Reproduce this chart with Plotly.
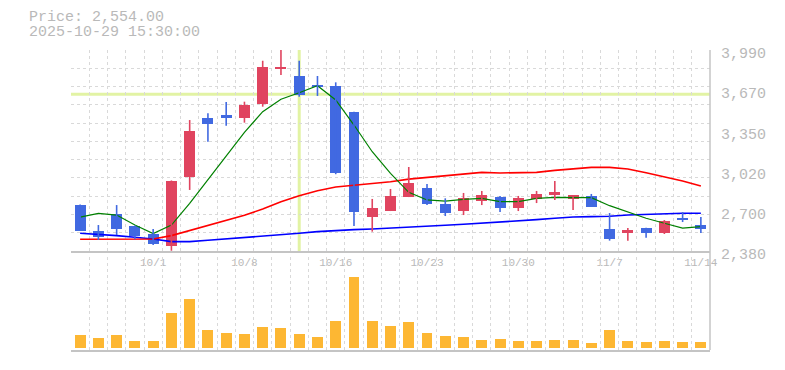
import plotly.graph_objects as go

# ---------------- data ----------------
dates = ["9/25", "9/26", "9/29", "9/30", "10/1", "10/2", "10/3", "10/6", "10/7", "10/8",
         "10/9", "10/10", "10/14", "10/15", "10/16", "10/17", "10/20", "10/21", "10/22", "10/23",
         "10/24", "10/27", "10/28", "10/29", "10/30", "10/31", "11/4", "11/5", "11/6", "11/7",
         "11/10", "11/11", "11/12", "11/13", "11/14"]

open_ = [2748, 2540, 2676, 2580, 2514, 2420, 2975, 3445, 3472, 3448,
         3559, 3840, 3782, 3710, 3702, 3493, 2652, 2703, 2816, 2885,
         2756, 2700, 2780, 2813, 2724, 2797, 2829, 2797, 2821, 2556,
         2527, 2564, 2524, 2644, 2588]
high = [2752, 2588, 2748, 2584, 2556, 2945, 3429, 3483, 3574, 3576,
        3904, 3990, 3904, 3782, 3731, 3495, 2797, 2877, 3053, 2917,
        2802, 2845, 2861, 2821, 2821, 2861, 2941, 2829, 2837, 2684,
        2564, 2566, 2628, 2692, 2652]
low = [2540, 2468, 2508, 2474, 2428, 2382, 2869, 3255, 3384, 3408,
       3536, 3790, 3616, 3622, 2995, 2580, 2535, 2700, 2812, 2748,
       2660, 2668, 2748, 2692, 2700, 2764, 2789, 2708, 2733, 2463,
       2463, 2487, 2516, 2612, 2524]
close = [2543, 2495, 2559, 2500, 2436, 2941, 3341, 3400, 3448, 3549,
         3854, 3854, 3630, 3696, 3005, 2695, 2724, 2821, 2925, 2756,
         2684, 2802, 2829, 2724, 2805, 2837, 2853, 2829, 2735, 2479,
         2548, 2527, 2620, 2628, 2554]

ma_short = [2652, 2682, 2668, 2588, 2519, 2588, 2762, 2949, 3135, 3331,
            3496, 3595, 3648, 3704, 3590, 3389, 3175, 3002, 2850, 2789,
            2780, 2794, 2802, 2775, 2775, 2802, 2810, 2810, 2807, 2743,
            2695, 2642, 2602, 2564, 2575]
ma_mid = [2474, 2474, 2474, 2474, 2476, 2503, 2543, 2580, 2620, 2666,
          2716, 2775, 2823, 2863, 2893, 2906, 2919, 2935, 2956, 2970,
          2986, 3002, 3010, 3005, 3005, 3010, 3026, 3037, 3050, 3050,
          3037, 3007, 2975, 2941, 2901]
ma_long = [2522, 2514, 2503, 2490, 2476, 2455, 2455, 2466, 2476, 2486,
           2498, 2511, 2522, 2535, 2546, 2551, 2556, 2562, 2571, 2575,
           2586, 2594, 2602, 2610, 2620, 2631, 2642, 2652, 2655, 2658,
           2668, 2674, 2682, 2682, 2682]

volume = [130000, 100000, 130000, 70000, 70000, 350000, 490000, 180000, 150000, 140000,
          210000, 200000, 140000, 110000, 270000, 710000, 270000, 220000, 260000, 150000,
          120000, 110000, 80000, 90000, 70000, 70000, 80000, 80000, 50000, 180000,
          70000, 60000, 70000, 60000, 60000]

tick_labels = ["10/1", "10/8", "10/16", "10/23", "10/30", "11/7", "11/14"]
price_tickvals = [2380, 2702, 3024, 3346, 3668, 3990]
price_ticktext = ["2,380", "2,700", "3,020", "3,350", "3,670", "3,990"]
price_range = [2380, 3990]
volume_range = [-20000, 910000]

cross_date = "10/14"
cross_price = 3635

header_lines = ["Price: 2,554.00", "2025-10-29 15:30:00"]

# ---------------- styles ----------------
UP = "#e0445f"
DOWN = "#4169e1"
GRID = "#d9d9d9"
AXIS = "#c4c4c4"
TXT = "#b9b9b9"
MONO = "Liberation Mono, DejaVu Sans Mono, monospace"

x = list(range(len(dates)))
up = [c >= o for o, c in zip(open_, close)]
xr = [-0.5, len(dates) - 0.5]

fig = go.Figure()

# moving averages
fig.add_trace(go.Scatter(x=x, y=ma_long, mode="lines", line=dict(color="#0000ff", width=1.6),
                         xaxis="x", yaxis="y", hoverinfo="skip"))
fig.add_trace(go.Scatter(x=x, y=ma_mid, mode="lines", line=dict(color="#ff0000", width=1.6),
                         xaxis="x", yaxis="y", hoverinfo="skip"))
fig.add_trace(go.Scatter(x=x, y=ma_short, mode="lines", line=dict(color="#008000", width=1.2),
                         xaxis="x", yaxis="y", hoverinfo="skip"))

# wicks
for flag, col in ((True, UP), (False, DOWN)):
    wx, wy = [], []
    for i in x:
        if up[i] == flag:
            wx += [i, i, None]
            wy += [low[i], high[i], None]
    fig.add_trace(go.Scatter(x=wx, y=wy, mode="lines", line=dict(color=col, width=1.6),
                             xaxis="x", yaxis="y", hoverinfo="skip"))

# bodies
fig.add_trace(go.Bar(
    x=x,
    y=[abs(c - o) for o, c in zip(open_, close)],
    base=[min(o, c) for o, c in zip(open_, close)],
    width=0.6,
    marker=dict(color=[UP if u else DOWN for u in up], line=dict(width=0)),
    xaxis="x", yaxis="y", hoverinfo="skip"))

# volume
fig.add_trace(go.Bar(x=x, y=volume, width=0.6, marker=dict(color="#fdb733", line=dict(width=0)),
                     xaxis="x2", yaxis="y2", hoverinfo="skip"))

# invisible trace for label axis
fig.add_trace(go.Scatter(x=[x[0]], y=[price_range[0]], mode="markers", marker=dict(opacity=0),
                         xaxis="x", yaxis="y3", hoverinfo="skip"))

cx = dates.index(cross_date)
fig.add_shape(type="line", xref="x", yref="y", x0=cx, x1=cx, y0=price_range[0], y1=price_range[1],
              line=dict(color="#e2f3a4", width=3), layer="below")
fig.add_shape(type="line", xref="x", yref="y", x0=xr[0], x1=xr[1], y0=cross_price, y1=cross_price,
              line=dict(color="#e2f3a4", width=3), layer="below")
# right frame line spanning both panels
fig.add_shape(type="line", xref="paper", yref="paper", x0=1, x1=1, y0=0, y1=1,
              line=dict(color=AXIS, width=1.5), layer="above")

common_x = dict(range=xr, showgrid=False, zeroline=False, ticks="",
                minor=dict(tick0=-0.5, dtick=1, showgrid=True, gridcolor=GRID,
                           griddash="3px,3px", gridwidth=1, ticks=""),
                showline=True, linecolor=AXIS, linewidth=1.5, fixedrange=True)

# page body has an 8px margin, so the figure is 8px smaller and margins shifted
fig.update_layout(
    width=777, height=362,
    margin=dict(l=63, r=75, t=42, b=20, autoexpand=False),
    paper_bgcolor="white", plot_bgcolor="white",
    showlegend=False, barmode="overlay", bargap=0,
    xaxis=dict(**common_x, anchor="y",
               tickmode="array", tickvals=[dates.index(d) for d in tick_labels],
               ticktext=tick_labels, tickfont=dict(family=MONO, size=11, color=TXT)),
    xaxis2=dict(**common_x, anchor="y2", matches="x", showticklabels=False),
    yaxis=dict(domain=[0.33, 1], range=price_range, side="right", showticklabels=False,
               tick0=price_range[0], dtick=(price_range[1] - price_range[0]) / 11,
               showgrid=True, gridcolor=GRID, griddash="3px,3px", gridwidth=1,
               zeroline=False, showline=False, ticks="", fixedrange=True),
    yaxis3=dict(overlaying="y", anchor="x", side="right", range=price_range,
                tickmode="array", tickvals=price_tickvals, ticktext=price_ticktext,
                tickfont=dict(family=MONO, size=15, color=TXT), showgrid=False,
                zeroline=False, showline=False, ticks="outside", ticklen=7,
                tickcolor="rgba(0,0,0,0)", ticklabelshift=3, fixedrange=True),
    yaxis2=dict(domain=[0, 0.31], range=volume_range, showticklabels=False, showgrid=False,
                zeroline=False, showline=False, ticks="", fixedrange=True),
)

ys = [1.1067, 1.0583]
for line, yy in zip(header_lines, ys):
    fig.add_annotation(text=line, xref="paper", yref="paper", x=-0.067, y=yy,
                       xanchor="left", yanchor="middle", showarrow=False, borderpad=0,
                       font=dict(family=MONO, size=15, color=TXT))

fig.write_html("out.html")
